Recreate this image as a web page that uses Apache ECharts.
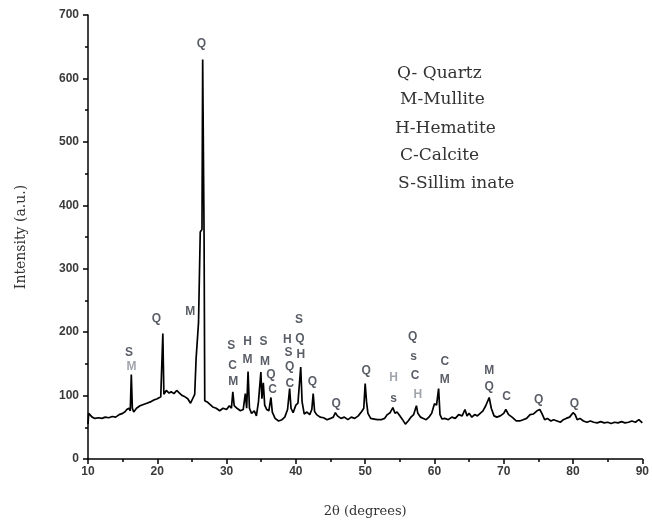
<!DOCTYPE html>
<html>
<head>
<meta charset="utf-8">
<script src="https://cdn.jsdelivr.net/npm/echarts@6/dist/echarts.min.js"></script>
<style>
  html, body { margin: 0; padding: 0; background: #fff; }
  #chart { width: 652px; height: 527px; }
</style>
</head>
<body>
<div id="chart"></div>
<script>
// 2θ positions (degrees)
const twoTheta = [
  10.0, 10.1, 10.3, 10.6, 11.0, 11.5, 12.0, 12.5, 13.0, 13.5, 14.0, 14.5, 15.0, 15.3, 15.6, 15.9,
  16.1, 16.25, 16.4, 16.6, 17.0, 17.5, 18.0, 18.5, 19.0, 19.5, 20.0, 20.5, 20.65, 20.8, 20.95,
  21.3, 21.7, 22.0, 22.4, 22.8, 23.2, 23.6, 24.0, 24.4, 24.8, 25.1, 25.4, 25.6, 25.95, 26.2,
  26.45, 26.55, 26.75, 26.85, 27.2, 27.6, 28.0, 28.5, 29.0, 29.5, 30.0, 30.4, 30.7, 30.9, 31.1,
  31.5, 32.0, 32.4, 32.7, 32.9, 33.1, 33.3, 33.6, 34.0, 34.3, 34.6, 34.95, 35.1, 35.3, 35.5,
  35.8, 36.1, 36.4, 36.6, 37.0, 37.5, 38.0, 38.4, 38.8, 39.1, 39.3, 39.6, 40.0, 40.3, 40.7,
  40.9, 41.2, 41.6, 42.0, 42.3, 42.5, 42.7, 43.0, 43.5, 44.0, 44.5, 45.0, 45.4, 45.7, 46.0,
  46.5, 47.0, 47.5, 48.0, 48.5, 49.0, 49.5, 49.8, 50.0, 50.2, 50.4, 50.8, 51.3, 51.8, 52.3,
  52.8, 53.2, 53.6, 54.0, 54.3, 54.6, 55.0, 55.4, 55.8, 56.2, 56.6, 57.0, 57.4, 57.6, 58.0,
  58.4, 58.8, 59.2, 59.6, 60.0, 60.3, 60.6, 60.8, 61.1, 61.5, 62.0, 62.5, 63.0, 63.5, 64.0,
  64.4, 64.7, 65.0, 65.4, 65.8, 66.2, 66.6, 67.0, 67.4, 67.9, 68.2, 68.6, 69.0, 69.5, 70.0,
  70.3, 70.7, 71.2, 71.8, 72.3, 72.8, 73.3, 73.8, 74.3, 74.8, 75.2, 75.5, 75.9, 76.3, 76.8,
  77.2, 77.7, 78.2, 78.6, 79.0, 79.5, 80.0, 80.3, 80.6, 81.0, 81.5, 82.0, 82.5, 83.0, 83.5,
  84.0, 84.5, 85.0, 85.5, 86.0, 86.5, 87.0, 87.5, 88.0, 88.5, 89.0, 89.5, 90.0
];

// intensity (a.u.) at each 2θ
const intensity = [
  55, 72, 70, 66, 64, 65, 64, 66, 65, 67, 66, 70, 72, 74, 78, 80,
  76, 133, 80, 74, 80, 84, 86, 88, 90, 93, 95, 98, 100, 198, 102,
  108, 104, 106, 103, 108, 104, 100, 98, 95, 88, 95, 102, 158, 215, 358,
  362, 630, 355, 92, 90, 86, 82, 80, 76, 80, 78, 84, 80, 106, 84,
  80, 76, 78, 103, 80, 138, 80, 72, 76, 68, 90, 137, 95, 120, 85,
  78, 76, 97, 74, 64, 60, 62, 66, 78, 111, 80, 73, 85, 88, 145,
  90, 71, 74, 70, 78, 103, 75, 70, 66, 65, 62, 64, 66, 73, 68,
  64, 66, 62, 66, 64, 68, 75, 80, 119, 90, 72, 64, 63, 62, 62,
  64, 70, 73, 81, 72, 74, 68, 62, 55, 60, 66, 70, 84, 72, 66,
  64, 62, 66, 72, 87, 85, 111, 70, 63, 64, 62, 66, 64, 70, 68,
  78, 68, 72, 66, 70, 68, 72, 76, 84, 97, 80, 68, 66, 68, 72,
  78, 70, 66, 60, 60, 62, 64, 70, 71, 76, 78, 72, 62, 64, 60,
  62, 60, 58, 62, 64, 66, 73, 70, 62, 64, 60, 58, 60, 58, 57,
  59, 57, 58, 56, 58, 57, 59, 57, 58, 60, 58, 62, 57
];

// phase letters: [2θ, intensity, letter]
const peakLabels = [
  [15.93, 167, 'S'], [16.27, 146, 'M'],
  [19.87, 222, 'Q'], [24.75, 232, 'M'], [26.38, 655, 'Q'],
  [30.69, 178, 'S'], [30.88, 147, 'C'], [30.98, 122, 'M'],
  [33.03, 185, 'H'], [33.03, 156, 'M'],
  [35.33, 185, 'S'], [35.53, 154, 'M'], [36.39, 133, 'Q'], [36.63, 109, 'C'],
  [38.78, 188, 'H'], [38.93, 167, 'S'], [39.12, 146, 'Q'], [39.12, 118, 'C'],
  [40.46, 219, 'S'], [40.6, 190, 'Q'], [40.7, 164, 'H'],
  [42.37, 122, 'Q'], [45.8, 87, 'Q'], [50.13, 140, 'Q'],
  [54.1, 128, 'H'], [54.1, 95, 's'],
  [56.84, 193, 'Q'], [56.98, 161, 's'], [57.2, 131, 'C'], [57.6, 101, 'H'],
  [61.5, 154, 'C'], [61.5, 125, 'M'],
  [67.9, 140, 'M'], [67.9, 114, 'Q'], [70.4, 98, 'C'],
  [75.04, 93, 'Q'], [80.2, 87, 'Q']
];
// letters printed in lighter grey
const greyLetters = ['16.27M', '54.1H', '57.6H'];

const legendLines = ['Q- Quartz', 'M-Mullite', 'H-Hematite', 'C-Calcite', 'S-Sillim inate'];

const chart = echarts.init(document.getElementById('chart'));

const axisLabelStyle = {
  fontFamily: 'Liberation Sans',
  fontWeight: 'bold',
  fontSize: 12,
  color: '#3a3a3a'
};

chart.setOption({
  animation: false,
  grid: { left: 88, right: 7, top: 15, bottom: 68 },
  xAxis: {
    type: 'value',
    min: 10,
    max: 90,
    interval: 10,
    name: '2θ (degrees)',
    nameLocation: 'middle',
    nameGap: 46,
    nameTextStyle: { fontFamily: 'DejaVu Serif', fontSize: 13, color: '#333' },
    axisLine: { lineStyle: { color: '#000', width: 1.5 } },
    axisTick: { length: 5, lineStyle: { color: '#000', width: 1.5 } },
    minorTick: { show: true, splitNumber: 2, length: 3, lineStyle: { color: '#000', width: 1.5 } },
    axisLabel: Object.assign({ margin: 7 }, axisLabelStyle),
    splitLine: { show: false }
  },
  yAxis: {
    type: 'value',
    min: 0,
    max: 700,
    interval: 100,
    name: 'Intensity (a.u.)',
    nameLocation: 'middle',
    nameGap: 60,
    nameTextStyle: { fontFamily: 'DejaVu Serif', fontSize: 14, color: '#333' },
    axisLine: { show: true, lineStyle: { color: '#000', width: 1.5 } },
    axisTick: { show: true, length: 5, lineStyle: { color: '#000', width: 1.5 } },
    minorTick: { show: true, splitNumber: 2, length: 3, lineStyle: { color: '#000', width: 1.5 } },
    axisLabel: Object.assign({ margin: 9 }, axisLabelStyle),
    splitLine: { show: false }
  },
  series: [
    {
      type: 'line',
      data: twoTheta.map((t, i) => [t, intensity[i]]),
      symbol: 'none',
      lineStyle: { color: '#000', width: 1.7 },
      z: 3
    },
    {
      type: 'scatter',
      data: peakLabels.map(p => ({
        value: [p[0], p[1]],
        label: { color: greyLetters.includes(p[0] + p[2]) ? '#8a9099' : '#2f3540' }
      })),
      symbolSize: 0,
      label: {
        show: true,
        position: 'inside',
        formatter: (p) => peakLabels[p.dataIndex][2],
        fontFamily: 'Liberation Sans',
        fontWeight: 'bold',
        fontSize: 12
      },
      z: 4
    }
  ],
  graphic: legendLines.map((t, i) => ({
    type: 'text',
    left: [397, 400, 395, 400, 398][i],
    top: [75, 101, 130, 157, 185][i] - 10,
    style: { text: t, font: '17px "DejaVu Serif"', fill: '#333' }
  }))
});
</script>
</body>
</html>
